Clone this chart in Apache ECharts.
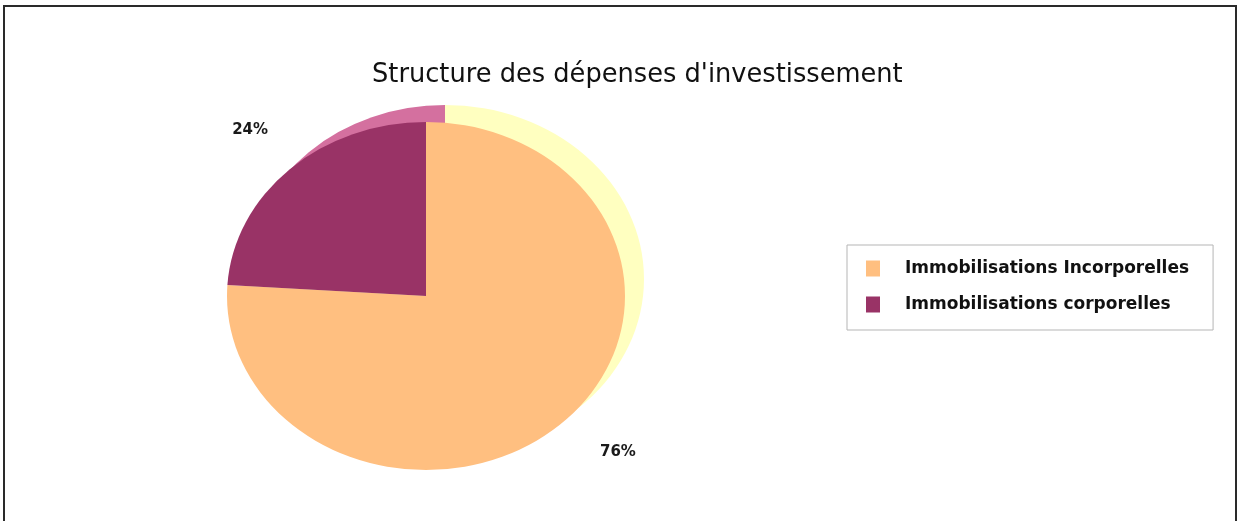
<!DOCTYPE html>
<html><head><meta charset="utf-8">
<script src="https://cdn.jsdelivr.net/npm/echarts@6/dist/echarts.min.js"></script>
<style>html,body{margin:0;padding:0;background:#fff}#c{width:1240px;height:521px}</style>
</head><body><div id="c"></div>
<script>
const chartTitle = "Structure des dépenses d'investissement";
const categories = ['Immobilisations Incorporelles', 'Immobilisations corporelles'];
const values = [76, 24];

const frontColors = ['#FFBF80', '#993366'];
const backColors = ['#FFFFC0', '#D4709F'];

// layout
const CX = 426, CY = 296, RX = 199, RY = 174, DX = 19, DY = -17;
const KX = 1.35, KY = 1.27, LDX = 8, LDY = -5;

const total = values.reduce((a, b) => a + b, 0);
function angles(i) {
  let acc = 0;
  for (let k = 0; k < i; k++) acc += values[k];
  const s = -Math.PI / 2 + acc / total * 2 * Math.PI;
  const e = s + values[i] / total * 2 * Math.PI;
  return [s, e];
}
function sector(i, cx, cy, color) {
  const [s, e] = angles(i);
  return {
    type: 'sector',
    shape: { cx: cx, cy: cy, r0: 0, r: RX, startAngle: s, endAngle: e, clockwise: true },
    scaleY: RY / RX, originX: cx, originY: cy,
    style: { fill: color }
  };
}

const series = [{
  type: 'custom', name: 'ombre', coordinateSystem: 'none', silent: true, z: 1,
  data: values,
  renderItem: function (params) {
    return sector(params.dataIndex, CX + DX, CY + DY, backColors[params.dataIndex]);
  }
}];
categories.forEach(function (name, i) {
  series.push({
    type: 'custom', name: name, coordinateSystem: 'none', silent: true, z: 2,
    itemStyle: { color: frontColors[i] },
    data: [values[i]],
    renderItem: function () {
      const [s, e] = angles(i);
      const m = (s + e) / 2;
      return {
        type: 'group',
        children: [
          sector(i, CX, CY, frontColors[i]),
          {
            type: 'text',
            style: {
              text: Math.round(values[i] / total * 100) + '%',
              x: CX + KX * RX * Math.cos(m) + LDX, y: CY + KY * RY * Math.sin(m) + LDY,
              align: 'center', verticalAlign: 'middle',
              fill: '#1a1a1a', fontSize: 15, fontWeight: 'bold', fontFamily: 'DejaVu Sans'
            }
          }
        ]
      };
    }
  });
});

const chart = echarts.init(document.getElementById('c'));
chart.setOption({
  animation: false,
  backgroundColor: '#fff',
  title: {
    text: chartTitle, left: 367, top: 57,
    textStyle: { fontSize: 25.7, fontWeight: 'normal', color: '#111', fontFamily: 'DejaVu Sans' }
  },
  legend: {
    data: categories.map((n, i) => ({ name: n, itemStyle: { color: frontColors[i] } })),
    orient: 'vertical', left: 847, top: 245,
    padding: [15, 24, 17, 19], itemGap: 19, itemWidth: 14, itemHeight: 16,
    icon: 'rect', selectedMode: false,
    borderColor: '#b5b5b5', borderWidth: 1,
    textStyle: { fontSize: 17, fontWeight: 'bold', color: '#111', fontFamily: 'DejaVu Sans', padding: [0, 0, 0, 20] }
  },
  graphic: [{
    type: 'rect', z: 100, silent: true,
    shape: { x: 4, y: 6, width: 1232, height: 530 },
    style: { fill: 'none', stroke: '#2a2a2a', lineWidth: 2 }
  }],
  series: series
});
</script></body></html>
